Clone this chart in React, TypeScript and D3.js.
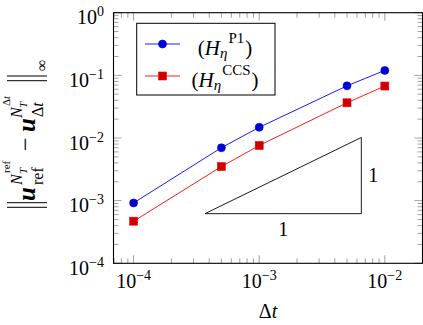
import React from 'react';
import * as d3 from 'd3';

// convergence data
const dt = [1e-4, 5e-4, 1e-3, 5e-3, 1e-2];
const errP1 = [9.2e-4, 7.0e-3, 1.48e-2, 6.8e-2, 0.12];
const errCCS = [4.7e-4, 3.5e-3, 7.6e-3, 3.65e-2, 6.75e-2];

const xMajor = [1e-4, 1e-3, 1e-2];
const xExp = ['−4', '−3', '−2'];
const yMajor = [1e-4, 1e-3, 1e-2, 1e-1, 1];
const yExp = ['−4', '−3', '−2', '−1', '0'];

// slope triangle corners
const slopeX = [3.7e-4, 6.5e-3];
const slopeY = [6.2e-4, 1.02e-2];

const W = 423;
const H = 325;
const FONT = "'Liberation Serif', 'Times New Roman', serif";

const left = 113.5, right = 422.5, top = 12.7, bottom = 263.3;

const x = d3.scaleLog().domain([Math.pow(10, -4.16), Math.pow(10, -1.7)]).range([left, right]);
const y = d3.scaleLog().domain([1e-4, 1]).range([bottom, top]);

function minorTicks(scale: d3.ScaleLogarithmic<number, number>) {
  const [a, b] = scale.domain();
  const out: number[] = [];
  for (let e = Math.floor(Math.log10(a)); e <= Math.ceil(Math.log10(b)); e++) {
    for (let k = 2; k <= 9; k++) {
      const v = k * Math.pow(10, e);
      if (v >= a && v <= b) out.push(v);
    }
  }
  return out;
}

const line = d3.line<number>()
  .x((_, i) => x(dt[i]))
  .y(d => y(d));

const App = () => {
  const xMinor = minorTicks(x);
  const yMinor = minorTicks(y);
  const tickColor = '#8a8a8a';
  const legendRows = [
    { color: '#0000ff', fill: '#0000cc', mark: 'circle', sup: 'P1', yy: 44 },
    { color: '#ff0000', fill: '#cc0000', mark: 'square', sup: 'CCS', yy: 76 },
  ];

  return (
    <div style={{ position: 'absolute', left: 0, top: 0 }}>
      <svg width={W} height={H} style={{ display: 'block', background: '#fff', fontFamily: FONT }}>
        {/* minor ticks */}
        {xMinor.map((v, i) => (
          <g key={'xm' + i} stroke={tickColor} strokeWidth={0.8}>
            <line x1={x(v)} x2={x(v)} y1={bottom} y2={bottom - 5} />
            <line x1={x(v)} x2={x(v)} y1={top} y2={top + 5} />
          </g>
        ))}
        {yMinor.map((v, i) => (
          <g key={'ym' + i} stroke={tickColor} strokeWidth={0.8}>
            <line x1={left} x2={left + 5} y1={y(v)} y2={y(v)} />
            <line x1={right} x2={right - 5} y1={y(v)} y2={y(v)} />
          </g>
        ))}
        {/* major ticks */}
        {xMajor.map((v, i) => (
          <g key={'xM' + i} stroke={tickColor} strokeWidth={0.8}>
            <line x1={x(v)} x2={x(v)} y1={bottom} y2={bottom - 8} />
            <line x1={x(v)} x2={x(v)} y1={top} y2={top + 8} />
          </g>
        ))}
        {yMajor.map((v, i) => (
          <g key={'yM' + i} stroke={tickColor} strokeWidth={0.8}>
            <line x1={left} x2={left + 8} y1={y(v)} y2={y(v)} />
            <line x1={right} x2={right - 8} y1={y(v)} y2={y(v)} />
          </g>
        ))}

        {/* slope triangle */}
        <path
          d={`M${x(slopeX[0])},${y(slopeY[0])}L${x(slopeX[1])},${y(slopeY[0])}L${x(slopeX[1])},${y(slopeY[1])}Z`}
          fill="none" stroke="#000" strokeWidth={0.9}
        />
        <text x={x(Math.sqrt(slopeX[0] * slopeX[1]))} y={y(slopeY[0]) + 22} fontSize={20} textAnchor="middle">1</text>
        <text x={x(slopeX[1]) + 7} y={y(Math.sqrt(slopeY[0] * slopeY[1])) + 6} fontSize={20}>1</text>

        {/* series */}
        <path d={line(errP1) || ''} fill="none" stroke="#0000ff" strokeWidth={0.9} />
        <path d={line(errCCS) || ''} fill="none" stroke="#ff0000" strokeWidth={0.9} />
        {errP1.map((v, i) => (
          <circle key={'p' + i} cx={x(dt[i])} cy={y(v)} r={4} fill="#0000cc" stroke="#0000ff" strokeWidth={0.6} />
        ))}
        {errCCS.map((v, i) => (
          <rect key={'c' + i} x={x(dt[i]) - 4} y={y(v) - 4} width={8} height={8} fill="#cc0000" stroke="#ff0000" strokeWidth={0.6} />
        ))}

        {/* frame */}
        <rect x={left} y={top} width={right - left} height={bottom - top} fill="none" stroke="#000" strokeWidth={1.1} />

        {/* legend */}
        <rect x={136.7} y={23.3} width={138.3} height={71.7} fill="#fff" stroke="#000" strokeWidth={1} />
        {legendRows.map((r, i) => (
          <g key={'lg' + i}>
            <line x1={145} x2={180} y1={r.yy} y2={r.yy} stroke={r.color} strokeWidth={0.9} />
            {r.mark === 'circle'
              ? <circle cx={162.5} cy={r.yy} r={4} fill={r.fill} stroke={r.color} strokeWidth={0.6} />
              : <rect x={158.5} y={r.yy - 4} width={8} height={8} fill={r.fill} stroke={r.color} strokeWidth={0.6} />}
            <text x={225} y={r.yy + 11} fontSize={21} textAnchor="middle">
              <tspan>(</tspan>
              <tspan fontStyle="italic">H</tspan>
              <tspan fontStyle="italic" fontSize={15} dy={3}>η</tspan>
              <tspan fontSize={15} dx={1} dy={-15}>{r.sup}</tspan>
              <tspan dx={1} dy={12}>)</tspan>
            </text>
          </g>
        ))}

        {/* tick labels */}
        {xMajor.map((v, i) => (
          <text key={'xl' + i} x={x(v)} y={288.3} fontSize={20} textAnchor="middle">
            <tspan>10</tspan>
            <tspan fontSize={14} dy={-8}>{xExp[i]}</tspan>
          </text>
        ))}
        {yMajor.map((v, i) => (
          <text key={'yl' + i} x={104} y={y(v) + 11.5} fontSize={20} textAnchor="end">
            <tspan>10</tspan>
            <tspan fontSize={14} dy={-8}>{yExp[i]}</tspan>
          </text>
        ))}

        {/* x label */}
        <text x={(left + right) / 2} y={318} fontSize={20} textAnchor="middle">
          <tspan>Δ</tspan><tspan fontStyle="italic">t</tspan>
        </text>

        {/* y label: ‖u_ref^{N_T^ref} − u_Δt^{N_T^Δt}‖_∞ */}
        <g transform="translate(35,210) rotate(-90)">
          <line x1={2.7} x2={2.7} y1={-28} y2={12} stroke="#000" strokeWidth={1} />
          <line x1={7.3} x2={7.3} y1={-28} y2={12} stroke="#000" strokeWidth={1} />
          <text x={9} y={0} fontSize={25} fontWeight="bold" fontStyle="italic">u</text>
          <text x={25} y={8} fontSize={16}>ref</text>
          <text x={25} y={-13} fontSize={16} fontStyle="italic">N</text>
          <text x={36} y={-8} fontSize={11} fontStyle="italic">T</text>
          <text x={37} y={-25} fontSize={11}>ref</text>
          <text x={59} y={-2} fontSize={24}>−</text>
          <text x={78} y={0} fontSize={25} fontWeight="bold" fontStyle="italic">u</text>
          <text x={93} y={8} fontSize={16}><tspan>Δ</tspan><tspan fontStyle="italic">t</tspan></text>
          <text x={92} y={-13} fontSize={16} fontStyle="italic">N</text>
          <text x={102} y={-8} fontSize={11} fontStyle="italic">T</text>
          <text x={104} y={-25} fontSize={11}><tspan>Δ</tspan><tspan fontStyle="italic">t</tspan></text>
          <line x1={129.3} x2={129.3} y1={-28} y2={12} stroke="#000" strokeWidth={1} />
          <line x1={134} x2={134} y1={-28} y2={12} stroke="#000" strokeWidth={1} />
          <text x={139} y={12} fontSize={16}>∞</text>
        </g>
      </svg>
    </div>
  );
};

export default App;
